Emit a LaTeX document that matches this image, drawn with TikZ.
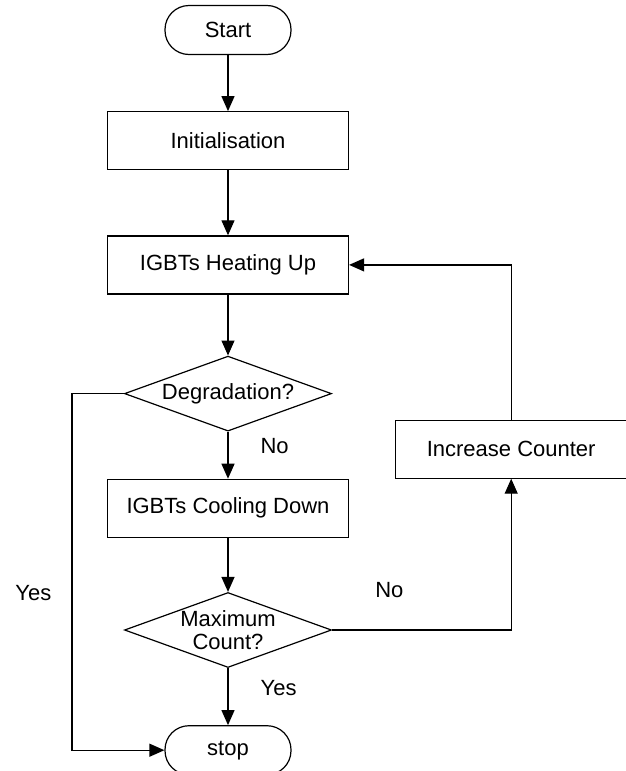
\documentclass[tikz,border=0pt]{standalone}
\usepackage{fontspec}
\setmainfont{Liberation Sans}
\usetikzlibrary{arrows.meta,positioning,shapes.geometric}
\tikzset{
  base/.style={font=\fontsize{11}{11.5}\selectfont,align=center,draw=black,line width=0.6pt,fill=white,inner sep=3pt},
  terminal/.style={base,rounded corners=12pt,minimum width=63pt,minimum height=24.5pt},
  process/.style={base,minimum width=120.5pt,minimum height=29pt},
  decision/.style={base,diamond,aspect=2.76,minimum width=103.5pt,minimum height=37.5pt,inner sep=0pt},
  flow/.style={-{Triangle[length=7.5pt,width=6.5pt]},line width=0.6pt,draw=black},
  tag/.style={font=\fontsize{11}{11.5}\selectfont,inner sep=2pt}
}

\begin{document}
\begin{tikzpicture}[x=1pt,y=1pt]
\useasboundingbox (0,0) rectangle (313,-385.5);
\node[terminal] (start) at (114,-15) {Start};
\node[process,below=28pt of start] (init) {Initialisation};
\node[process,below=32.5pt of init] (heat) {IGBTs Heating Up};
\node[decision,below=30.5pt of heat] (degr) {Degradation?};
\node[process,below=23.5pt of degr] (cool) {IGBTs Cooling Down};
\node[decision,below=27pt of cool] (maxcount) {Maximum\\Count?};
\node[terminal,below=28.5pt of maxcount] (stop) {stop};
\node[process,minimum width=115.5pt,below right=62.5pt and 23pt of heat] (counter) {Increase Counter};

\draw[flow] (start) -- (init);
\draw[flow] (init) -- (heat);
\draw[flow] (heat) -- (degr);
\draw[flow] (degr) -- node[tag,right=14pt,pos=0.3]{No} (cool);
\draw[flow] (cool) -- (maxcount);
\draw[flow] (maxcount) -- node[tag,right=14pt,pos=0.35]{Yes} (stop);
\draw[flow] (degr.west) -- ++(-26pt,0) |- node[tag,left=8pt,pos=0.28]{Yes} (stop.west);
\draw[flow] (maxcount.east) -| node[tag,above=14pt,pos=0.16]{No} (counter.south);
\draw[flow] (counter.north) |- (heat.east);
\end{tikzpicture}
\end{document}
